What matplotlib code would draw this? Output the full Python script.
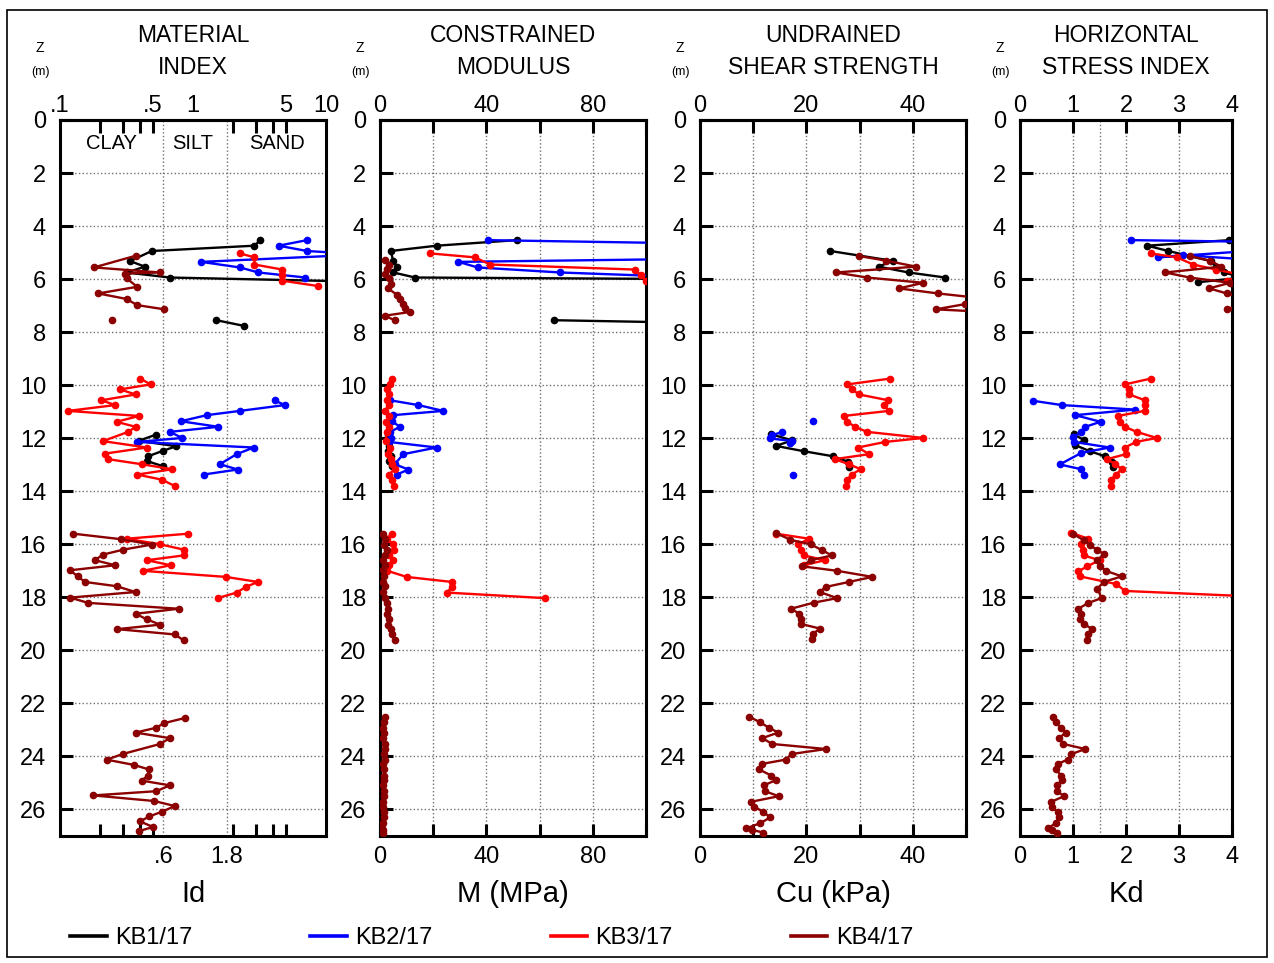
import matplotlib
matplotlib.use("Agg")
import matplotlib.pyplot as plt
import numpy as np
from matplotlib.lines import Line2D
from matplotlib.patches import Rectangle
from matplotlib.ticker import NullFormatter, NullLocator

nan = np.nan

SERIES = ["KB1/17", "KB2/17", "KB3/17", "KB4/17"]
COLORS = ["black", "#0000ff", "#ff0000", "#8b0000"]

# shared depth groups (m)
Z_KB3_MID = [9.75, 9.97, 10.16, 10.35, 10.57, 10.75, 10.97, 11.16, 11.38, 11.57, 11.76,
             11.99, 12.14, 12.35, 12.60, 12.79, 12.98, 13.17, 13.37, 13.56, 13.80]
Z_KB4_LOW = [15.60, 15.81, 16.01, 16.20, 16.39, 16.60, 16.79, 16.98, 17.21, 17.42, 17.58,
             17.80, 18.01, 18.21, 18.43, 18.62, 18.83, 19.03, 19.20, 19.40, 19.62]
Z_KB4_BOT = [22.51, 22.70, 22.91, 23.10, 23.31, 23.53, 23.72, 23.91, 24.12, 24.28, 24.49, 24.72,
             24.90, 25.09, 25.31, 25.50, 25.71, 25.90, 26.09, 26.30, 26.52, 26.71, 26.77, 26.87]

# ---- material index Id ----
ID_Z_KB1 = [4.53, 4.74, 4.94, 5.32, 5.53, 5.75, 5.94, 6.10, nan, 7.55, 7.76, nan,
            11.86, 12.10, 12.30, 12.48, 12.68, 12.86, 13.05]
ID_KB1 = [3.2, 2.9, 0.49, 0.336, 0.435, 0.317, 0.67, 20, nan, 1.5, 2.4, nan,
          0.53, 0.39, 0.75, 0.59, 0.46, 0.45, 0.59]
ID_Z_KB2 = [4.53, 4.74, 4.94, 5.07, 5.35, 5.56, 5.75, 5.94, nan,
            10.57, 10.75, 10.97, 11.13, 11.36, 11.57, 11.76, 11.99, 12.14, 12.35, 12.60, 12.98, 13.18, 13.37]
ID_KB2 = [7.2, 4.4, 7.2, 19, 1.15, 2.25, 3.1, 7.0, nan,
          4.1, 4.9, 2.25, 1.27, 0.81, 1.55, 0.67, 0.83, 0.38, 2.87, 2.13, 1.59, 2.17, 1.2]
ID_Z_KB3 = ([5.03, 5.18, 5.45, 5.64, 5.85, 6.06, 6.26, nan]
            + [9.75, 9.97, 10.16, 10.35, 10.57, 10.75, 10.97, 11.16, 11.38, 11.57, 11.76,
               12.11, 12.35, 12.58, 12.79, 12.98, 13.17, 13.37, 13.56, 13.80, nan]
            + [15.60, 15.79, 16.00, 16.20, 16.42, 16.60, 16.79, 17.00, 17.23, 17.42, 17.61, 17.82, 18.03])
ID_KB3 = ([2.25, 2.9, 2.9, 4.7, 4.7, 4.7, 8.7, nan]
          + [0.40, 0.48, 0.283, 0.37, 0.205, 0.26, 0.115, 0.394, 0.266, 0.37, 0.326,
             0.21, 0.45, 0.218, 0.23, 0.41, 0.70, 0.38, 0.58, 0.73, nan]
          + [0.92, 0.317, 0.565, 0.85, 0.85, 0.45, 0.68, 0.42, 1.77, 3.07, 2.49, 2.13, 1.53])
ID_Z_KB4 = ([5.12, 5.56, 5.75, 5.79, 5.97, 6.29, 6.54, 6.75, 6.98, 7.14, nan, 7.55, nan]
            + Z_KB4_LOW + [nan]
            + [22.55, 22.74, 22.92, 23.10, 23.31, 23.53, 23.90, 24.12, 24.32, 24.49, 24.72,
               24.91, 25.09, 25.31, 25.47, 25.68, 25.87, 26.09, 26.26, 26.45, 26.66, 26.82])
ID_KB4 = ([0.37, 0.18, 0.565, 0.31, 0.317, 0.38, 0.194, 0.317, 0.38, 0.61, nan, 0.245, nan]
          + [0.126, 0.29, 0.49, 0.30, 0.21, 0.183, 0.26, 0.119, 0.136, 0.154, 0.266,
             0.37, 0.119, 0.163, 0.78, 0.37, 0.45, 0.565, 0.27, 0.73, 0.85, nan]
          + [0.87, 0.61, 0.527, 0.37, 0.67, 0.565, 0.30, 0.224, 0.36, 0.466, 0.46,
             0.41, 0.67, 0.53, 0.178, 0.51, 0.73, 0.58, 0.47, 0.40, 0.50, 0.39])

# ---- constrained modulus M (MPa) ----
M_Z_KB1 = ID_Z_KB1
M_KB1 = [51.4, 21.3, 4.0, 5.0, 6.3, 5.0, 13.2, 300, nan, 65.4, 180, nan,
         3.0, 2.5, 3.5, 3.0, 4.0, 3.5, 4.5]
M_Z_KB2 = ID_Z_KB2
M_KB2 = [40.5, 170, 200, 250, 29.5, 36.7, 67.7, 120, nan,
         3.8, 14.4, 23.8, 5.0, 4.5, 7.5, 3.8, 4.0, 3.4, 21.3, 8.8, 5.5, 10.7, 6.3]
M_Z_KB3 = ([5.03, 5.18, 5.45, 5.64, 5.85, 6.06, nan]
           + [9.75, 9.97, 10.16, 10.35, 10.57, 10.75, 10.97, 11.16, 11.38, 11.57, 11.76,
              12.11, 12.35, 12.58, 12.79, 12.98, 13.17, 13.37, 13.56, 13.80, nan]
           + [15.60, 15.79, 16.00, 16.20, 16.42, 16.60, 16.79, 17.00, 17.23, 17.42, 17.61, 17.82, 18.03])
M_KB3 = ([18.8, 35.7, 41.4, 95.9, 98, 100, nan]
         + [4.5, 3.8, 2.8, 3.5, 2.5, 3.3, 1.8, 3.5, 2.4, 3.3, 2.5, 2.2, 3.6, 3.0, 4.2,
            4.5, 5.6, 3.2, 4.6, 5.4, nan]
         + [4.4, 2.5, 5.0, 5.2, 3.5, 4.8, 3.3, 2.8, 10, 27, 27.2, 25, 62])
M_Z_KB4 = ([5.27, 5.45, 5.60, 5.80, 5.97, 6.17, 6.35, 6.60, 6.75, 6.95, 7.10, 7.24, 7.38, 7.55, nan]
           + Z_KB4_LOW + [nan] + Z_KB4_BOT)
M_KB4 = ([1.9, 3.5, 2.5, 2.0, 3.5, 4.0, 3.0, 6.5, 7.5, 8.5, 9.5, 11.3, 1.8, 5.5, nan]
         + [1.0, 2.0, 1.5, 2.5, 1.8, 1.2, 2.0, 1.0, 1.5, 1.0, 1.8, 1.2, 2.0, 2.5, 3.0,
            2.5, 3.5, 3.0, 4.0, 4.5, 5.5, nan]
         + [1.8, 1.5, 1.2, 1.6, 1.3, 1.8, 2.0, 1.5, 1.7, 1.2, 1.4, 1.6, 1.5, 1.2, 1.4,
            1.6, 1.0, 1.2, 1.4, 1.6, 1.2, 0.8, 1.0, 1.2])

# ---- undrained shear strength Cu (kPa) ----
CU_Z_KB1 = [4.94, 5.31, 5.53, 5.75, 5.94, nan, 11.85, 12.08, 12.29, 12.49, 12.68, 12.89, 13.10]
CU_KB1 = [24.5, 36.2, 33.6, 39.2, 46.1, nan, 13.4, 17.3, 14.3, 19.5, 25.0, 27.9, 28.0]
CU_Z_KB2 = [11.36, nan, 11.76, 11.89, 12.01, 12.10, 12.18, nan, 13.40]
CU_KB2 = [21.2, nan, 15.5, 13.5, 13.2, 17.3, 17.0, nan, 17.4]
CU_Z_KB3 = Z_KB3_MID + [nan] + [15.60, 15.79, 16.00, 16.20, 16.42, 16.60, 16.79]
CU_KB3 = ([35.8, 27.7, 28.6, 29.9, 35.4, 34.5, 35.5, 27.0, 27.7, 29.1, 31.4,
           42.0, 34.8, 29.7, 31.8, 25.3, 28.0, 30.2, 28.5, 27.7, 27.5, nan]
          + [14.3, 20.5, 18.5, 19.0, 19.5, 23.5, 19.5])
CU_Z_KB4 = ([5.13, 5.30, 5.53, 5.75, 5.94, 6.14, 6.35, 6.54, 6.70, 6.94, 7.14, 7.30, nan]
            + [15.57, 15.83, 16.00, 16.23, 16.42, 16.60, 16.83, 17.00, 17.23, 17.42, 17.61,
               17.80, 18.03, 18.20, 18.43, 18.62, 18.83, 19.00, 19.18, 19.37, 19.56, nan]
            + Z_KB4_BOT)
CU_KB4 = ([29.9, 34.9, 40.6, 25.5, 31.4, 42.0, 37.4, 44.7, 52.0, 49.9, 44.3, 60.0, nan]
          + [14.2, 17.0, 20.8, 23.0, 24.8, 20.8, 19.2, 25.8, 32.4, 28.0, 23.6,
             22.5, 25.8, 21.4, 17.1, 18.7, 19.0, 18.9, 22.6, 21.2, 21.1, nan]
          + [9.3, 11.2, 12.9, 14.7, 11.7, 13.6, 23.7, 17.2, 16.1, 11.7, 11.1, 13.4,
             14.2, 12.0, 12.2, 14.8, 9.6, 10.2, 11.9, 13.2, 11.3, 8.7, 9.8, 11.9])

# ---- horizontal stress index Kd ----
KD_Z_KB1 = [4.53, 4.74, 4.94, 5.32, 5.53, 5.75, 5.94, 6.12, nan,
            11.85, 12.07, 12.26, 12.49, 12.68, 12.89, 13.10]
KD_KB1 = [3.95, 2.4, 2.8, 3.6, 3.7, 3.85, 4.2, 3.35, nan,
          1.01, 1.21, 1.04, 1.32, 1.6, 1.73, 1.76]
KD_Z_KB2 = [4.53, 4.74, 4.90, 5.18, 5.10, 5.35, nan,
            10.59, 10.75, 10.92, 11.13, 11.38, 11.57, 11.76, 11.97, 12.14, 12.35, 12.55, 12.99, 13.17, 13.40]
KD_KB2 = [2.09, 10, 4.6, 2.6, 3.08, 5.0, nan,
          0.25, 0.79, 2.17, 1.04, 1.52, 1.23, 1.16, 1.0, 1.02, 1.69, 1.16, 0.75, 1.16, 1.21]
KD_Z_KB3 = ([5.03, 5.18, 5.45, 5.64, 5.85, 6.06, 6.26, nan] + Z_KB3_MID + [nan]
            + [15.57, 15.79, 15.98, 16.23, 16.42, 16.60, 16.83, 17.02, 17.21, 17.50, 17.76, 17.95])
KD_KB3 = ([2.47, 2.96, 3.27, 3.7, 4.2, 3.9, 4.3, nan]
          + [2.47, 1.98, 2.06, 2.06, 2.36, 2.35, 2.35, 1.85, 1.88, 1.98, 2.2,
             2.58, 2.19, 1.98, 2.0, 1.64, 1.8, 1.92, 1.81, 1.72, 1.72, nan]
          + [0.97, 1.29, 1.16, 1.18, 1.20, 1.50, 1.27, 1.10, 1.13, 1.82, 1.98, 4.2])
KD_Z_KB4 = ([5.13, 5.30, 5.53, 5.75, 5.94, 6.14, 6.35, 6.54, 6.75, 6.94, 7.14, 7.30, nan]
            + [15.60, 15.85, 16.04, 16.20, 16.38, 16.60, 16.80, 17.00, 17.21, 17.42,
               17.67, 18.03, 18.21, 18.43, 18.62, 18.83, 19.00, 19.18, 19.37, 19.60, nan]
            + Z_KB4_BOT)
KD_KB4 = ([3.2, 3.58, 3.8, 2.74, 3.2, 3.96, 3.57, 3.9, 4.3, 4.2, 3.9, 4.5, nan]
          + [1.0, 1.2, 1.32, 1.45, 1.59, 1.45, 1.5, 1.62, 1.92, 1.58,
             1.46, 1.54, 1.29, 1.1, 1.15, 1.14, 1.2, 1.35, 1.29, 1.27, nan]
          + [0.62, 0.67, 0.77, 0.87, 0.73, 0.82, 1.23, 0.97, 0.90, 0.71, 0.67, 0.78,
             0.80, 0.70, 0.70, 0.83, 0.59, 0.60, 0.71, 0.73, 0.67, 0.53, 0.60, 0.69])

PANELS = [
    ("MATERIAL\nINDEX", "Id", [(ID_Z_KB1, ID_KB1), (ID_Z_KB2, ID_KB2), (ID_Z_KB3, ID_KB3), (ID_Z_KB4, ID_KB4)]),
    ("CONSTRAINED\nMODULUS", "M (MPa)", [(M_Z_KB1, M_KB1), (M_Z_KB2, M_KB2), (M_Z_KB3, M_KB3), (M_Z_KB4, M_KB4)]),
    ("UNDRAINED\nSHEAR STRENGTH", "Cu (kPa)", [(CU_Z_KB1, CU_KB1), (CU_Z_KB2, CU_KB2), (CU_Z_KB3, CU_KB3), (CU_Z_KB4, CU_KB4)]),
    ("HORIZONTAL\nSTRESS INDEX", "Kd", [(KD_Z_KB1, KD_KB1), (KD_Z_KB2, KD_KB2), (KD_Z_KB3, KD_KB3), (KD_Z_KB4, KD_KB4)]),
]

W, H = 1274, 963
SPINE = 2.2
GRID = dict(color="#707070", linestyle=":", linewidth=1.0)
TICKSIZE = 17

plt.rcParams["font.family"] = ["Liberation Sans", "DejaVu Sans"]

fig = plt.figure(figsize=(W / 100, H / 100), dpi=100)
fig.add_artist(Rectangle((7 / W, 1 - 957 / H), 1260 / W, 947 / H, transform=fig.transFigure,
                         fill=False, edgecolor="black", linewidth=1.2))


def box(x0, x1, y0=120, y1=836):
    return [x0 / W, 1 - y1 / H, (x1 - x0) / W, (y1 - y0) / H]


def top_labels(ax, ticks, labels):
    sec = ax.secondary_xaxis("top")
    sec.set_xticks(ticks)
    sec.set_xticklabels(labels)
    sec.xaxis.set_minor_locator(NullLocator())
    sec.tick_params(length=0, labelsize=TICKSIZE, pad=2)
    sec.spines["top"].set_linewidth(SPINE)


axes = [fig.add_axes(box(60, 326)), fig.add_axes(box(380, 646)),
        fig.add_axes(box(700, 966)), fig.add_axes(box(1020, 1232))]

for ax, (title, xlabel, data) in zip(axes, PANELS):
    for (z, v), color in zip(data, COLORS):
        ax.plot(v, z, color=color, linewidth=1.7, marker="o", markersize=4.5, zorder=3)

    ax.set_ylim(27, 0)
    ax.set_yticks(np.arange(0, 27, 2))
    ax.tick_params(axis="y", direction="in", length=9, width=SPINE, labelsize=TICKSIZE, pad=10)
    ax.grid(True, axis="y", **GRID)
    for spine in ax.spines.values():
        spine.set_linewidth(SPINE)
    ax.set_axisbelow(True)

    ax.set_xlabel(xlabel, fontsize=21, labelpad=9)
    ax.text(0.5, 1 + 41 / 716, title, transform=ax.transAxes, ha="center", va="bottom",
            fontsize=16.5, linespacing=1.5)
    pos = ax.get_position()
    fig.text(pos.x0 - 20 / W, 1 - 48 / H, "Z", ha="center", va="center", fontsize=10)
    fig.text(pos.x0 - 20 / W, 1 - 72 / H, "(m)", ha="center", va="center", fontsize=9)

# material index: log axis, soil classes
ax = axes[0]
ax.set_xscale("log")
ax.set_xlim(0.1, 10)
ax.set_xticks([0.6, 1.8])
ax.set_xticklabels([".6", "1.8"])
ax.set_xticks([0.2, 0.3, 0.4, 0.5, 2, 3, 4, 5], minor=True)
ax.xaxis.set_minor_formatter(NullFormatter())
ax.tick_params(axis="x", which="major", length=0, labelsize=TICKSIZE, pad=7)
ax.tick_params(axis="x", which="minor", direction="in", top=True, bottom=True, length=9, width=SPINE)
ax.grid(True, axis="x", which="major", **GRID)
top_labels(ax, [0.1, 0.5, 1, 5, 10], [".1", ".5", "1", "5", "10"])
for label, xpos in zip(["CLAY", "SILT", "SAND"], [0.245, 1.0, 4.3]):
    ax.text(xpos, 0.87, label, ha="center", va="center", fontsize=14.5)

# linear axes
LINEAR = [
    (axes[1], 100, np.arange(0, 101, 20), [0, 40, 80]),
    (axes[2], 50, np.arange(0, 51, 10), [0, 20, 40]),
    (axes[3], 4, np.arange(0, 5, 1), [0, 1, 2, 3, 4]),
]
for ax, xmax, ticks, shown in LINEAR:
    ax.set_xlim(0, xmax)
    ax.set_xticks(ticks)
    ax.set_xticklabels([f"{t:g}" if t in shown else "" for t in ticks])
    ax.tick_params(axis="x", direction="in", top=True, bottom=True, labelbottom=True,
                   length=9, width=SPINE, labelsize=TICKSIZE, pad=7)
    ax.grid(True, axis="x", **GRID)
    top_labels(ax, shown, [f"{t:g}" for t in shown])
axes[3].axvline(1.5, zorder=0, **GRID)

handles = [Line2D([], [], color=c, linewidth=2.6) for c in COLORS]
fig.legend(handles, SERIES, loc="center left", bbox_to_anchor=(70 / W, 1 - 938 / H), ncol=4,
           frameon=False, fontsize=17, handlelength=1.55, handletextpad=0.35,
           columnspacing=5.0, borderaxespad=0, borderpad=0)

fig.savefig("out.png", dpi=100)
